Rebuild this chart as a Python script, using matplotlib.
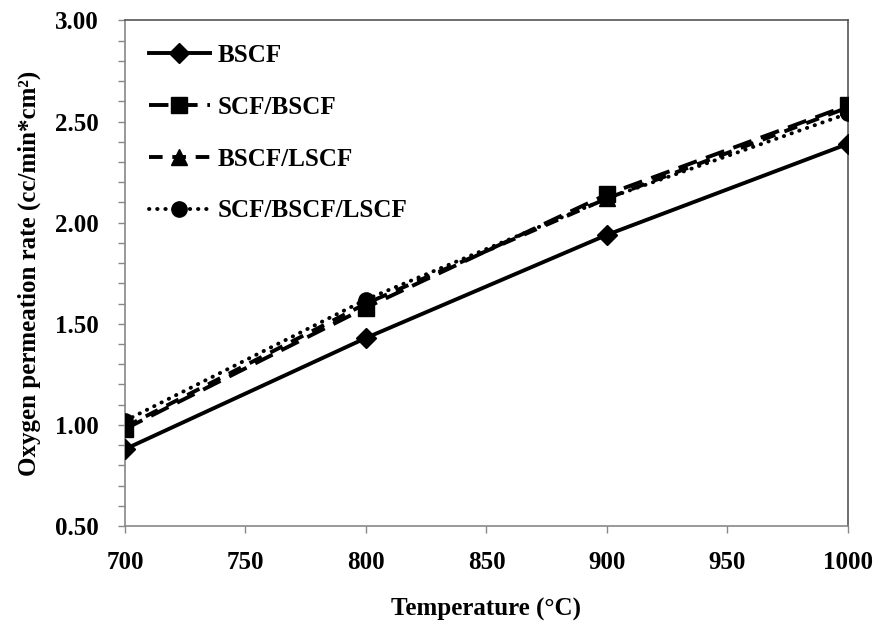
import matplotlib
matplotlib.use("Agg")
import matplotlib.pyplot as plt
from matplotlib.ticker import MultipleLocator, FormatStrFormatter

# Oxygen permeation data (cc/min*cm2) vs temperature
temperature = [700, 800, 900, 1000]
bscf = [0.88, 1.43, 1.94, 2.39]
scf_bscf = [0.98, 1.58, 2.14, 2.58]
bscf_lscf = [0.99, 1.60, 2.12, 2.57]
scf_bscf_lscf = [1.02, 1.62, 2.12, 2.54]
series_labels = ["BSCF", "SCF/BSCF", "BSCF/LSCF", "SCF/BSCF/LSCF"]

plt.rcParams["font.family"] = ["Liberation Serif", "DejaVu Serif"]
plt.rcParams["font.weight"] = "bold"

fig = plt.figure(figsize=(8.8, 6.26), dpi=100)
ax = fig.add_axes([0.142, 0.1597, 0.8216, 0.8076])

lw = 2.8
ax.plot(temperature, bscf, color="black", lw=lw, ls="-", marker="D",
        markersize=10, label=series_labels[0], zorder=3)
ax.plot(temperature, scf_bscf, color="black", lw=lw, dashes=(5, 2.5), marker="s",
        markersize=12, label=series_labels[1], zorder=4)
ax.plot(temperature, bscf_lscf, color="black", lw=lw, dashes=(3.5, 2.5), marker="^",
        markersize=11, label=series_labels[2], zorder=3)
ax.plot(temperature, scf_bscf_lscf, color="black", lw=lw, dashes=(0.1, 2.0),
        dash_capstyle="round", marker="o", markersize=11,
        label=series_labels[3], zorder=5)

ax.set_xlim(700, 1000)
ax.set_ylim(0.5, 3.0)
ax.xaxis.set_major_locator(MultipleLocator(50))
ax.yaxis.set_major_locator(MultipleLocator(0.5))
ax.yaxis.set_minor_locator(MultipleLocator(0.1))
ax.yaxis.set_major_formatter(FormatStrFormatter("%.2f"))

ax.tick_params(axis="both", which="both", direction="out", length=5,
               width=1, color="#888888", labelsize=18)
ax.tick_params(axis="x", pad=13)
ax.tick_params(axis="y", pad=14)
for lab in ax.get_xticklabels() + ax.get_yticklabels():
    lab.set_fontweight("bold")

ax.spines["left"].set_color("#888888")
ax.spines["bottom"].set_color("#888888")
ax.spines["top"].set_color("#555555")
ax.spines["right"].set_color("#555555")
for s in ax.spines.values():
    s.set_linewidth(1.2)

ax.set_xlabel("Temperature (°C)", fontsize=18, fontweight="bold", labelpad=17)
ax.set_ylabel("Oxygen permeation rate (cc/min*cm²)", fontsize=18,
              fontweight="bold", labelpad=10)

leg = ax.legend(loc="upper left", frameon=False, fontsize=18,
                handlelength=2.45, handletextpad=0.3, labelspacing=1.15,
                borderaxespad=0.6, borderpad=0.35)

fig.savefig("out.png", dpi=100)
